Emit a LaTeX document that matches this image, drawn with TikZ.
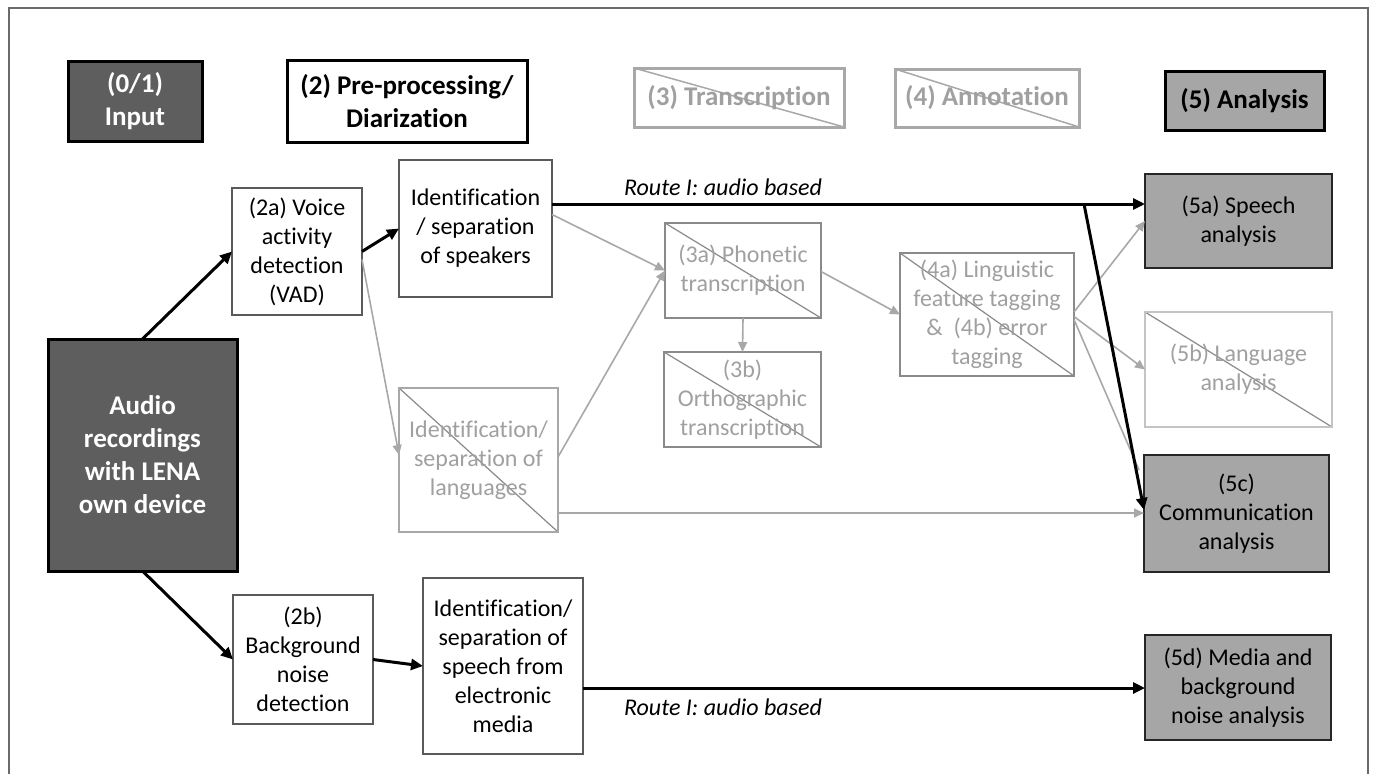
\documentclass[tikz,border=0pt]{standalone}
\usepackage{fontspec}
\setmainfont{Carlito}[Ligatures={NoCommon}]
\usetikzlibrary{arrows.meta,calc}
\definecolor{darkfill}{HTML}{5E5E5E}
\definecolor{midfill}{HTML}{A6A6A6}
\definecolor{txtgray}{HTML}{A0A0A0}
\definecolor{lngray}{HTML}{A8A8A8}
\definecolor{bordgray}{HTML}{5A5A5A}
\definecolor{xgray}{HTML}{8A8A8A}
\definecolor{lightgray5b}{HTML}{C4C4C4}
\definecolor{framegray}{HTML}{6A6A6A}
\newcommand{\nf}{\fontsize{24}{29}\selectfont}
\newcommand{\hf}{\fontsize{27}{33}\selectfont\bfseries}
\tikzset{
  every node/.style={inner sep=0pt, outer sep=0pt, align=center},
  wbox/.style={draw=bordgray, line width=1.4pt, fill=white, font=\nf},
  xbox/.style={draw=xgray, line width=1.4pt, fill=white, text=txtgray, font=\nf,
     path picture={\draw[xgray, line width=1.2pt] (path picture bounding box.north west) -- (path picture bounding box.south east);}},
  abox/.style={draw=black!85, line width=1.5pt, fill=midfill, font=\nf},
  hdr/.style={line width=3pt, font=\hf},
  blk/.style={draw=black, line width=3pt, -{Triangle[length=12pt,width=11pt]}},
  gry/.style={draw=lngray, line width=1.6pt, -{Triangle[length=10pt,width=9pt]}},
  gryline/.style={draw=lngray, line width=1.6pt},
  lbl/.style={font=\fontsize{24}{29}\selectfont\itshape},
}
\begin{document}
\begin{tikzpicture}[x=1pt,y=-1pt]
\useasboundingbox (0,0) rectangle (1375,774);
% frame
\draw[framegray, line width=1.5pt] (9,774) -- (9,8) -- (1368,8) -- (1368,774);

% headers
\node[hdr, draw=black, fill=darkfill, text=white, minimum width=134pt, minimum height=80pt] (hin) at (135,101) {(0/1)\\Input};
\node[hdr, draw=black, fill=white, minimum width=240pt, minimum height=82pt] (hpre) at (407,101) {(2) Pre-processing/\\Diarization};
\node[hdr, draw=lngray, fill=white, text=txtgray, minimum width=210pt, minimum height=59pt,
  path picture={\draw[lngray, line width=1.5pt] (path picture bounding box.north west) -- (path picture bounding box.south east);}] (htr) at (739,97.5) {(3) Transcription};
\node[hdr, draw=lngray, fill=white, text=txtgray, minimum width=184pt, minimum height=58pt,
  path picture={\draw[lngray, line width=1.5pt] (path picture bounding box.north west) -- (path picture bounding box.south east);}] (han) at (987,98) {(4) Annotation};
\node[hdr, draw=black, fill=midfill, minimum width=159pt, minimum height=59pt] (han5) at (1244.5,100.5) {(5) Analysis};

% left input
\node[draw=black, line width=3pt, fill=darkfill, text=white, font=\hf, minimum width=189pt, minimum height=232pt] (audio) at (142.5,455) {Audio\\recordings\\with LENA\\own device};

% column 2
\node[wbox, minimum width=130pt, minimum height=127pt] (vad) at (297,251.5) {(2a) Voice\\activity\\detection\\(VAD)};
\node[wbox, minimum width=153pt, minimum height=137pt] (spk) at (475.5,228.5) {Identification\\/ separation\\of speakers};
\node[xbox, draw=lngray, minimum width=159pt, minimum height=144pt,
  path picture={\draw[xgray, line width=1.2pt] (path picture bounding box.north west) -- (path picture bounding box.south east);}] (lang) at (478.5,460) {Identification/\\separation of\\languages};
\node[wbox, minimum width=140pt, minimum height=129pt] (bg) at (303,659.5) {(2b)\\Background\\noise\\detection};
\node[wbox, minimum width=160pt, minimum height=176pt] (media) at (503,666) {Identification/\\separation of\\speech from\\electronic\\media};

% column 3/4
\node[xbox, minimum width=156pt, minimum height=95pt] (pho) at (743,270.5) {(3a) Phonetic\\transcription};
\node[xbox, minimum width=157pt, minimum height=95pt] (ort) at (742.5,399.5) {(3b)\\Orthographic\\transcription};
\node[xbox, minimum width=174pt, minimum height=123pt] (ling) at (987,314.5) {(4a) Linguistic\\feature tagging\\\&\ \ (4b) error\\tagging};

% analysis column
\node[abox, minimum width=187pt, minimum height=94pt] (s5a) at (1238.5,221) {(5a) Speech\\analysis};
\node[xbox, draw=lightgray5b, minimum width=187pt, minimum height=115pt,
  path picture={\draw[xgray, line width=1.2pt] (path picture bounding box.north west) -- (path picture bounding box.south east);}] (s5b) at (1238.5,369.5) {(5b) Language\\analysis};
\node[abox, minimum width=185pt, minimum height=117pt] (s5c) at (1236.5,513.5) {(5c)\\Communication\\analysis};
\node[abox, minimum width=186pt, minimum height=105pt] (s5d) at (1238,687.5) {(5d) Media and\\background\\noise analysis};

% labels
\node[lbl] (lab1) at (723,187) {Route I: audio based};
\node[lbl] (lab2) at (723,707) {Route I: audio based};

% gray connectors
\draw[gry] ([yshift=-8pt]vad.east) -- ([yshift=5pt]lang.west);
\draw[gry] ([yshift=14pt]spk.east) -- (pho.west);
\draw[gry] ([yshift=3pt]lang.east) -- (pho.west);
\coordinate (l5c) at ([yshift=-53pt]lang.east);
\draw[gry] (l5c) -- (l5c -| s5c.west);
\draw[gry] (pho.south) -- (ort.north);
\draw[gry] ([yshift=-1pt]pho.east) -- (ling.west);
\draw[gry] ([yshift=2.5pt]ling.east) -- (s5a.west);
\draw[gry] ([yshift=-2pt]ling.east) -- (s5b.west);
\coordinate (g5c) at (1139,470);
\draw[gryline] ([yshift=-5pt]ling.east) -- (g5c);

% black connectors
\draw[blk] (audio.north) -- (vad.west);
\draw[blk] (vad.east) -- (spk.west);
\coordinate (r1) at ([yshift=24.5pt]spk.east);
\draw[blk] (r1) -- (r1 -| s5a.west);
\coordinate (br) at ([xshift=-61pt]r1 -| s5a.west);
\draw[blk] (br) -- ([yshift=3.5pt]s5c.west);
\draw[blk] (audio.south) -- (bg.west);
\draw[blk] (bg.east) -- (media.west);
\coordinate (r2) at ([yshift=-22pt]media.east);
\draw[blk] (r2) -- (r2 -| s5d.west);
\end{tikzpicture}
\end{document}
